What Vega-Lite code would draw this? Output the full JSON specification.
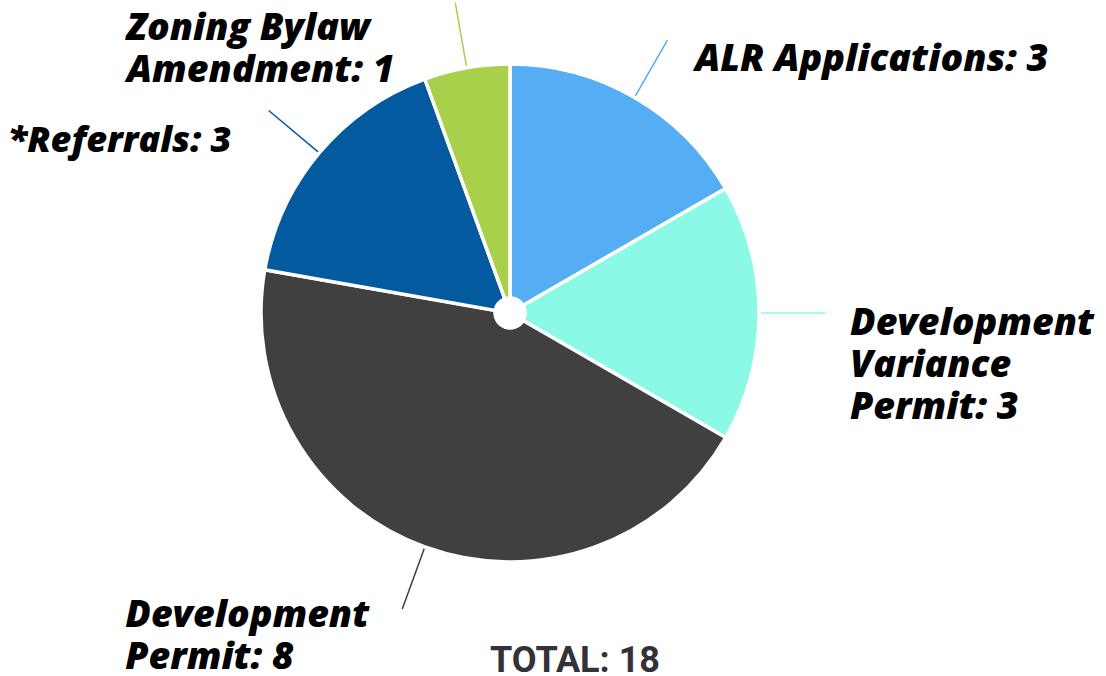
{
  "$schema": "https://vega.github.io/schema/vega-lite/v6.json",
  "width": 1020,
  "height": 626,
  "autosize": {"type": "none"},
  "padding": {"left": 0, "top": 0, "right": 86, "bottom": 50},
  "background": "white",
  "config": {"view": {"stroke": null}},
  "layer": [
    {
      "data": {"values": [
        {"category": "ALR Applications", "label": "ALR Applications: 3", "value": 3, "order": 1},
        {"category": "Development Variance Permit", "label": "Development\nVariance\nPermit: 3", "value": 3, "order": 2},
        {"category": "Development Permit", "label": "Development\nPermit: 8", "value": 8, "order": 3},
        {"category": "*Referrals", "label": "*Referrals: 3", "value": 3, "order": 4},
        {"category": "Zoning Bylaw Amendment", "label": "Zoning Bylaw\nAmendment: 1", "value": 1, "order": 5}
      ]},
      "transform": [
        {"stack": "value", "groupby": [], "sort": [{"field": "order", "order": "ascending"}], "as": ["s0", "s1"]},
        {"fold": ["s0", "s1"], "as": ["edge", "s"]},
        {"aggregate": [{"op": "mean", "field": "s", "as": "mid"}], "groupby": ["category", "label", "value", "order"]}
      ],
      "layer": [
        {
          "mark": {"type": "arc", "radius": 315, "radius2": 249, "filled": false, "strokeWidth": 1.5},
          "encoding": {
            "theta": {"field": "mid", "type": "quantitative", "scale": {"domain": [0, 18]}},
            "theta2": {"field": "mid"},
            "color": {"field": "category", "type": "nominal", "legend": null}
          }
        },
        {
          "mark": {"type": "arc", "radius": 249, "radius2": 15, "stroke": "white", "strokeWidth": 3.5},
          "encoding": {
            "theta": {"field": "value", "type": "quantitative", "stack": true, "scale": {"domain": [0, 18]}},
            "order": {"field": "order", "type": "quantitative", "sort": "ascending"},
            "color": {
              "field": "category", "type": "nominal", "legend": null,
              "scale": {
                "domain": ["ALR Applications", "Development Variance Permit", "Development Permit", "*Referrals", "Zoning Bylaw Amendment"],
                "range": ["#55ADF3", "#8AFAE6", "#404040", "#045A9F", "#A8D04A"]
              }
            }
          }
        },
        {
          "transform": [{"filter": "datum.category === 'ALR Applications'"}],
          "mark": {"type": "text", "radius": 318, "align": "left", "baseline": "alphabetic", "dx": 26, "dy": 33, "font": "Open Sans", "fontSize": 37.5, "fontWeight": 800, "fontStyle": "italic", "lineBreak": "\n", "lineHeight": 42, "color": "black"},
          "encoding": {"theta": {"field": "mid", "type": "quantitative", "stack": null, "scale": {"domain": [0, 18]}}, "text": {"field": "label"}}
        },
        {
          "transform": [{"filter": "datum.category === 'Development Variance Permit'"}],
          "mark": {"type": "text", "radius": 318, "align": "left", "baseline": "alphabetic", "dx": 22, "dy": 22, "font": "Open Sans", "fontSize": 37.5, "fontWeight": 800, "fontStyle": "italic", "lineBreak": "\n", "lineHeight": 42, "color": "black"},
          "encoding": {"theta": {"field": "mid", "type": "quantitative", "stack": null, "scale": {"domain": [0, 18]}}, "text": {"field": "label"}}
        },
        {
          "transform": [{"filter": "datum.category === 'Development Permit'"}],
          "mark": {"type": "text", "radius": 318, "align": "left", "baseline": "alphabetic", "dx": -276, "dy": 15, "font": "Open Sans", "fontSize": 37.5, "fontWeight": 800, "fontStyle": "italic", "lineBreak": "\n", "lineHeight": 42, "color": "black"},
          "encoding": {"theta": {"field": "mid", "type": "quantitative", "stack": null, "scale": {"domain": [0, 18]}}, "text": {"field": "label"}}
        },
        {
          "transform": [{"filter": "datum.category === '*Referrals'"}],
          "mark": {"type": "text", "radius": 318, "align": "right", "baseline": "alphabetic", "dx": -35, "dy": 43, "font": "Open Sans", "fontSize": 36, "fontWeight": 800, "fontStyle": "italic", "lineBreak": "\n", "lineHeight": 42, "color": "black"},
          "encoding": {"theta": {"field": "mid", "type": "quantitative", "stack": null, "scale": {"domain": [0, 18]}}, "text": {"field": "label"}}
        },
        {
          "transform": [{"filter": "datum.category === 'Zoning Bylaw Amendment'"}],
          "mark": {"type": "text", "radius": 318, "align": "left", "baseline": "alphabetic", "dx": -328, "dy": 40, "font": "Open Sans", "fontSize": 37.5, "fontWeight": 800, "fontStyle": "italic", "lineBreak": "\n", "lineHeight": 42, "color": "black"},
          "encoding": {"theta": {"field": "mid", "type": "quantitative", "stack": null, "scale": {"domain": [0, 18]}}, "text": {"field": "label"}}
        }
      ]
    },
    {
      "data": {"values": [{"label": "TOTAL: 18"}]},
      "mark": {"type": "text", "align": "center", "baseline": "alphabetic", "dx": 65, "dy": 359, "font": "Roboto", "fontSize": 36, "fontWeight": "bold", "color": "#333238"},
      "encoding": {"text": {"field": "label"}}
    }
  ]
}
